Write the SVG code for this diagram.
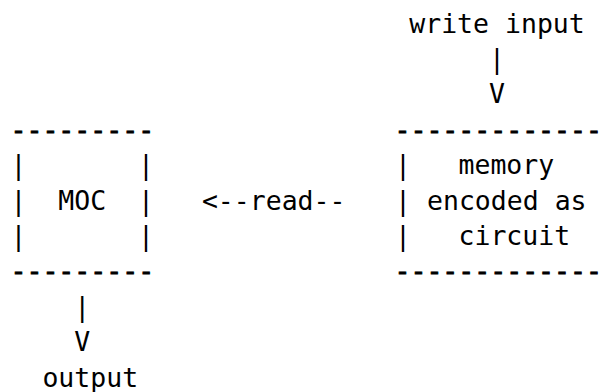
<svg xmlns="http://www.w3.org/2000/svg" width="605" height="392" viewBox="0 0 605 392">
<style>
  text { font-family: "DejaVu Sans Mono", "Liberation Mono", monospace; font-size: 26.5px; fill: #000; white-space: pre; }
  .dash { stroke: #000; stroke-width: 0.8px; }
</style>
<rect width="605" height="392" fill="#fff"/>
<g id="write-input">
  <text x="409.25" y="32.5">write input</text>
</g>
<g id="moc">
  <text class="dash" x="10.5" y="138.7">---------</text>
  <text x="10.5" y="174.1">|</text><text x="138.1" y="174.1">|</text>
  <text x="10.5" y="209.5">|</text><text x="58.35" y="209.5">MOC</text><text x="138.1" y="209.5">|</text>
  <text x="10.5" y="244.9">|</text><text x="138.1" y="244.9">|</text>
  <text class="dash" x="10.5" y="280.3">---------</text>
</g>
<g id="memory">
  <text class="dash" x="394.5" y="138.7">-------------</text>
  <text x="395" y="174.1">|</text><text x="458.5" y="174.1">memory</text>
  <text x="395" y="209.5">|</text><text x="427" y="209.5">encoded as</text>
  <text x="395" y="244.9">|</text><text x="458.5" y="244.9">circuit</text>
  <text class="dash" x="394.5" y="280.3">-------------</text>
</g>
<g id="output">
  <text x="42.4" y="386.5">output</text>
</g>
<g id="connectors">
  <text x="489" y="67.9">|</text>
  <text x="489" y="103.3">V</text>
  <text x="201.9" y="209.5">&lt;--read--</text>
  <text x="74.3" y="315.7">|</text>
  <text x="74.3" y="351.1">V</text>
</g>
</svg>
